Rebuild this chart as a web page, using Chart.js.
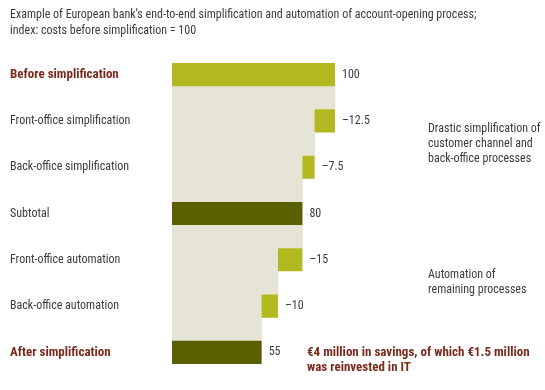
<!DOCTYPE html>
<html>
<head>
<meta charset="utf-8">
<script src="https://cdn.jsdelivr.net/npm/chart.js@4/dist/chart.umd.min.js"></script>
<style>
  html, body { margin: 0; padding: 0; background: #ffffff; }
  #wrap { width: 545px; height: 390px; position: relative; }
</style>
</head>
<body>
<div id="wrap"><canvas id="c"></canvas></div>
<script>
const titleLines = [
  "Example of European bank\u2019s end-to-end simplification and automation of account-opening process;",
  "index: costs before simplification = 100"
];
const categories = [
  "Before simplification",
  "Front-office simplification",
  "Back-office simplification",
  "Subtotal",
  "Front-office automation",
  "Back-office automation",
  "After simplification"
];
const values = [100, -12.5, -7.5, 80, -15, -10, 55];
const isTotal = [true, false, false, true, false, false, true];
const valueLabels = ["100", "\u201312.5", "\u20137.5", "80", "\u201315", "\u201310", "55"];
const emphasized = [true, false, false, false, false, false, true];
const noteSimplification = ["Drastic simplification of", "customer channel and", "back-office processes"];
const noteAutomation = ["Automation of", "remaining processes"];
const noteSavings = ["\u20ac4 million in savings, of which \u20ac1.5 million", "was reinvested in IT"];

const FONT = '"Liberation Sans Narrow", "Arial Narrow", "Roboto Condensed", sans-serif';
const BAR_PCT = 0.5;

// derived: floating ranges and running totals
const ranges = [];
const running = [];
let total = 0;
values.forEach((v, i) => {
  if (isTotal[i]) { ranges.push([0, v]); total = v; }
  else { ranges.push([total + v, total]); total = total + v; }
  running.push(total);
});
const barColors = values.map((v, i) => (isTotal[i] && i > 0) ? '#5a5f00' : '#b2b81f');
// beige connector band: from top of bar i to top of bar i+1, width = running total after bar i
const beige = running.slice(0, -1).map((t, i) => ({ x: t, y: i + BAR_PCT / 2 }));

const textPlugin = {
  id: 'texts',
  afterDatasetsDraw(chart) {
    const ctx = chart.ctx;
    const yScale = chart.scales.y;
    ctx.save();
    // title
    ctx.font = '12px ' + FONT;
    ctx.fillStyle = '#3c3c3c';
    ctx.textAlign = 'left';
    ctx.textBaseline = 'middle';
    ctx.fillText(titleLines[0], 10, 15);
    ctx.fillText(titleLines[1], 10, 31);
    // value labels
    const meta = chart.getDatasetMeta(1);
    meta.data.forEach((el, i) => {
      const right = Math.max(el.x, el.base);
      ctx.fillStyle = '#3c3c3c';
      ctx.font = '12px ' + FONT;
      ctx.fillText(valueLabels[i], right + 7, el.y);
    });
    // notes
    const y1 = (yScale.getPixelForValue(1) + yScale.getPixelForValue(2)) / 2;
    noteSimplification.forEach((s, k) => ctx.fillText(s, 428, y1 + (k - 1) * 15));
    const y2 = (yScale.getPixelForValue(4) + yScale.getPixelForValue(5)) / 2;
    noteAutomation.forEach((s, k) => ctx.fillText(s, 428, y2 + (k - 0.5) * 15));
    const y3 = yScale.getPixelForValue(6);
    ctx.font = 'bold 13px ' + FONT;
    ctx.fillStyle = '#7a2a1c';
    noteSavings.forEach((s, k) => ctx.fillText(s, 307, y3 + k * 15));
    ctx.restore();
  }
};

new Chart(document.getElementById('c'), {
  type: 'bar',
  data: {
    labels: categories,
    datasets: [
      {
        data: beige,
        yAxisID: 'y2',
        backgroundColor: '#e6e4d5',
        barPercentage: 1,
        categoryPercentage: 1,
        grouped: false,
        order: 2
      },
      {
        data: ranges,
        yAxisID: 'y',
        backgroundColor: barColors,
        barPercentage: BAR_PCT,
        categoryPercentage: 1,
        grouped: false,
        order: 1
      }
    ]
  },
  options: {
    indexAxis: 'y',
    responsive: true,
    maintainAspectRatio: false,
    animation: false,
    layout: { padding: { left: 10, top: 51.5, right: 47, bottom: 14.5 } },
    plugins: { legend: { display: false }, tooltip: { enabled: false } },
    scales: {
      x: { display: false, min: 0, max: 200 },
      y: {
        type: 'category',
        grid: { display: false },
        border: { display: false },
        afterFit: s => { s.width = 162; },
        ticks: {
          crossAlign: 'far',
          padding: 0,
          color: c => emphasized[c.index] ? '#7a2a1c' : '#3c3c3c',
          font: c => ({ family: FONT, size: emphasized[c.index] ? 13 : 12, weight: emphasized[c.index] ? 'bold' : 'normal' })
        }
      },
      y2: {
        type: 'linear',
        display: false,
        min: -0.5,
        max: categories.length - 0.5,
        reverse: true,
        afterBuildTicks: s => { s.ticks = []; }
      }
    }
  },
  plugins: [textPlugin]
});
</script>
</body>
</html>
